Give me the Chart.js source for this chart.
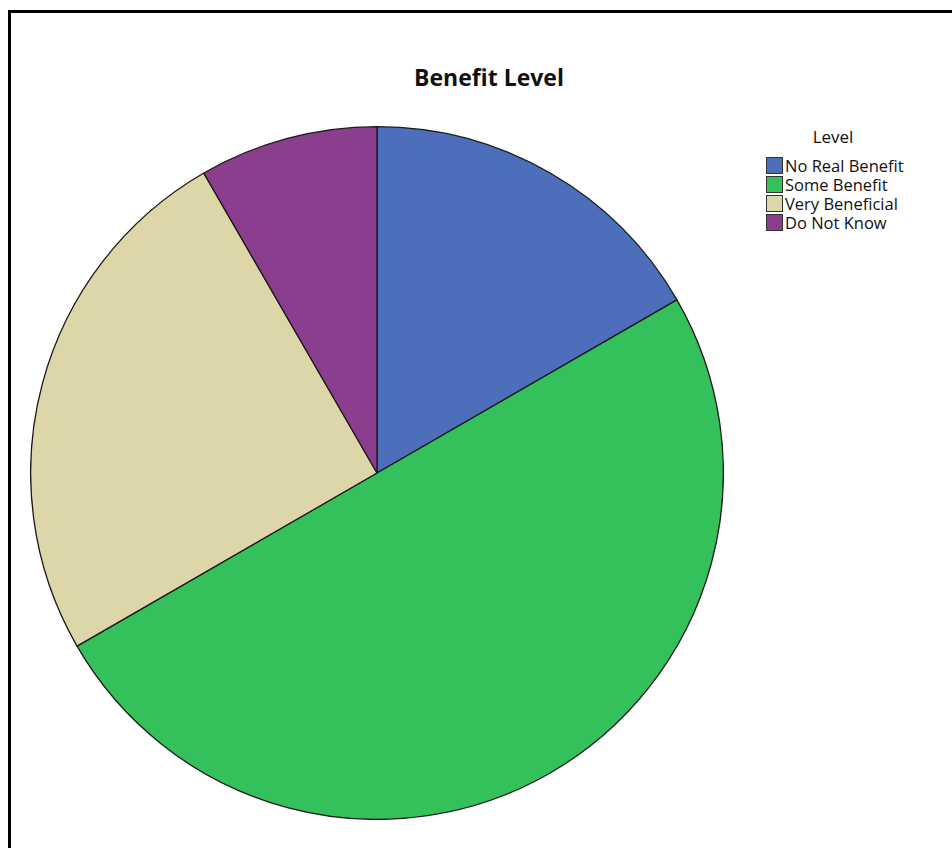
<!DOCTYPE html>
<html>
<head>
<meta charset="utf-8">
<script src="https://cdn.jsdelivr.net/npm/chart.js@4"></script>
<style>
  html, body { margin: 0; padding: 0; background: #fff; }
  body { width: 952px; height: 848px; position: relative; overflow: hidden; font-family: "Open Sans", "DejaVu Sans", sans-serif; }
  .frame { position: absolute; left: 8px; top: 10px; width: 960px; height: 860px; border-left: 3px solid #000; border-top: 3px solid #000; }
  .title { position: absolute; left: 389px; width: 200px; top: 61px; text-align: center; font-weight: bold; font-size: 23px; line-height: 32px; color: #111; }
  .pie-wrap { position: absolute; left: 30px; top: 126px; width: 694px; height: 694px; }
  .legend-title { position: absolute; left: 783px; width: 100px; top: 125px; text-align: center; font-size: 17px; line-height: 24px; color: #111; }
  .legend { position: absolute; left: 766px; top: 156px; font-size: 16.5px; color: #111; }
  .legend .row { display: flex; align-items: center; height: 19px; line-height: 19px; }
  .legend .box { width: 15px; height: 15px; border: 1px solid #333; margin-right: 2px; }
</style>
</head>
<body>
<div class="frame"></div>
<div class="title">Benefit Level</div>
<div class="pie-wrap"><canvas id="pie" width="694" height="694"></canvas></div>
<div class="legend-title" id="legendTitle"></div>
<div class="legend" id="legend"></div>
<script>
// data (slices of 60°, 180°, 90°, 30°)
const legendTitle = 'Level';
const levels = ['No Real Benefit', 'Some Benefit', 'Very Beneficial', 'Do Not Know'];
const counts = [2, 6, 3, 1];
const colors = ['#4d6ebb', '#34c05a', '#dcd6a8', '#8c3e8e'];

// legend
document.getElementById('legendTitle').textContent = legendTitle;
document.getElementById('legend').innerHTML =
  levels.map((l, i) => `<div class="row"><div class="box" style="background:${colors[i]}"></div>${l}</div>`).join('');

new Chart(document.getElementById('pie'), {
  type: 'pie',
  data: {
    labels: levels,
    datasets: [{
      data: counts,
      backgroundColor: colors,
      borderColor: '#1a1a1a',
      borderWidth: 1.3,
    }],
  },
  options: {
    responsive: false,
    animation: false,
    layout: { padding: 0 },
    plugins: { legend: { display: false }, tooltip: { enabled: false } },
  },
});
</script>
</body>
</html>
